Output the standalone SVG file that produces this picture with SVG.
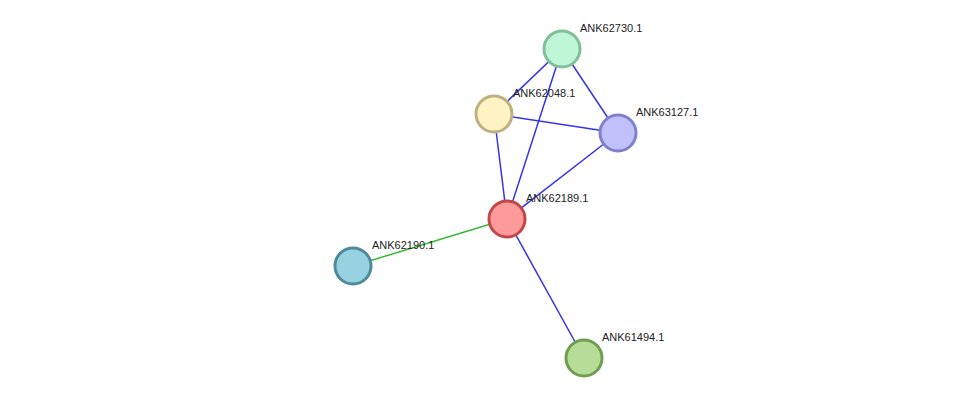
<svg xmlns="http://www.w3.org/2000/svg" width="976" height="404" viewBox="0 0 976 404">
<style>
.e{stroke:#3333ee;stroke-width:1.5}
.n{stroke-width:3}
text{font-family:"Liberation Sans",Arial,sans-serif;font-size:11px;fill:#222}
</style>
<rect width="976" height="404" fill="#fff"/>
<g id="connectors">
<line class="e" x1="562" y1="49" x2="494" y2="114"/>
<line class="e" x1="562" y1="49" x2="618" y2="133"/>
<line class="e" x1="562" y1="49" x2="507" y2="219"/>
<line class="e" x1="494" y1="114" x2="618" y2="133"/>
<line class="e" x1="494" y1="114" x2="507" y2="219"/>
<line class="e" x1="618" y1="133" x2="507" y2="219"/>
<line class="e" x1="507" y1="219" x2="584" y2="358"/>
<line x1="507" y1="219" x2="353" y2="266" stroke="#33bb33" stroke-width="1.5"/>
</g>
<g id="ANK62730.1"><circle class="n" cx="562" cy="49" r="18" fill="#bff7d6" stroke="#7fbf9a"/><text x="580" y="32">ANK62730.1</text></g>
<g id="ANK62048.1"><circle class="n" cx="494" cy="114" r="18" fill="#fff3c4" stroke="#bfb07f"/><text x="513" y="97">ANK62048.1</text></g>
<g id="ANK63127.1"><circle class="n" cx="618" cy="133" r="18" fill="#c0c0fa" stroke="#8080cc"/><text x="636" y="116">ANK63127.1</text></g>
<g id="ANK62189.1"><circle class="n" cx="507" cy="219" r="18" fill="#ff9a9a" stroke="#c04848"/><text x="526" y="202">ANK62189.1</text></g>
<g id="ANK62190.1"><circle class="n" cx="353" cy="266" r="18" fill="#98d2e0" stroke="#4f8a9c"/><text x="372" y="249">ANK62190.1</text></g>
<g id="ANK61494.1"><circle class="n" cx="584" cy="358" r="18" fill="#b6dd98" stroke="#6f9e50"/><text x="602" y="341">ANK61494.1</text></g>
</svg>
